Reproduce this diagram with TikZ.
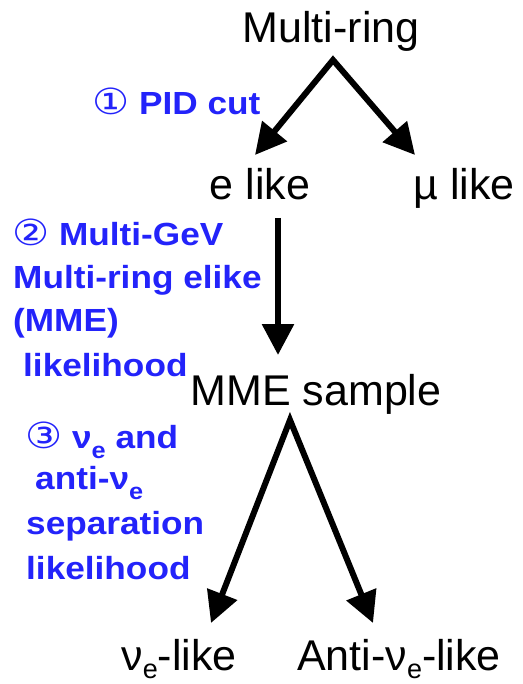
\documentclass[tikz,border=0pt]{standalone}
\usepackage{fontspec}
\setmainfont{Liberation Sans}
\newfontfamily\circfont[FakeStretch=1.15]{DejaVu Sans}
\newfontfamily\lblfont[FakeStretch=1.1]{Liberation Sans Bold}
\usetikzlibrary{arrows.meta}
\definecolor{lblue}{RGB}{35,35,250}
\newcommand{\bigtxt}{\fontsize{43}{50}\selectfont}
\newcommand{\bsub}[1]{\raisebox{-8pt}{\fontsize{27}{30}\selectfont #1}}
\newcommand{\lsub}[1]{\raisebox{-10pt}{\fontsize{23}{24}\selectfont #1}}
\newcommand{\cnum}[1]{{\circfont\fontsize{36}{36}\selectfont #1}}
\tikzset{
  blk/.style={inner sep=0pt, anchor=base, font=\bigtxt},
  lbl/.style={inner sep=0pt, anchor=base west, text=lblue, font=\lblfont\fontsize{32}{40}\selectfont},
  arr/.style={line width=6pt, line join=miter, -{Triangle[length=31pt,width=31pt]}},
  arr2/.style={line width=6pt, line join=miter, {Triangle[length=31pt,width=31pt]}-{Triangle[length=31pt,width=31pt]}}
}
\begin{document}
\begin{tikzpicture}[x=1pt,y=-1pt]
\useasboundingbox (0,0) rectangle (522,684);
% black nodes
\node[blk] (mr) at (331,43) {Multi-ring};
\node[blk] (el) at (260,200) {e like};
\node[blk] (ml) at (464,200) {\textmu\ like};
\node[blk] (mme) at (316,405) {MME sample};
\node[blk] (nl) at (179,670) {ν\bsub{e}-like};
\node[blk] (al) at (399,670) {Anti-ν\bsub{e}-like};
% blue labels
\node[lbl] (l1) at (92,115) {\cnum{①} PID cut};
\node[lbl] (l2a) at (12,246) {\cnum{②} Multi-GeV};
\node[lbl] (l2b) at (13,288) {Multi-ring elike};
\node[lbl] (l2c) at (13,331) {(MME)};
\node[lbl] (l2d) at (23,376) {likelihood};
\node[lbl] (l3a) at (25,448) {\cnum{③} ν\lsub{e} and};
\node[lbl] (l3b) at (35,489) {anti-ν\lsub{e}};
\node[lbl] (l3c) at (26,534) {separation};
\node[lbl] (l3d) at (26,579) {likelihood};
% connector end points
\coordinate (mrS) at (333,60);
\coordinate (elN) at (255,155);
\coordinate (mlN) at (415,155);
\coordinate (elS) at (278,218);
\coordinate (mmeN) at (278,355);
\coordinate (mmeS) at (290,420);
\coordinate (nlN) at (211,623);
\coordinate (alN) at (373,623);
% connectors
\draw[arr2] (elN) -- (mrS) -- (mlN);
\draw[arr] (elS) -- (mmeN);
\draw[arr2] (nlN) -- (mmeS) -- (alN);
\end{tikzpicture}
\end{document}
